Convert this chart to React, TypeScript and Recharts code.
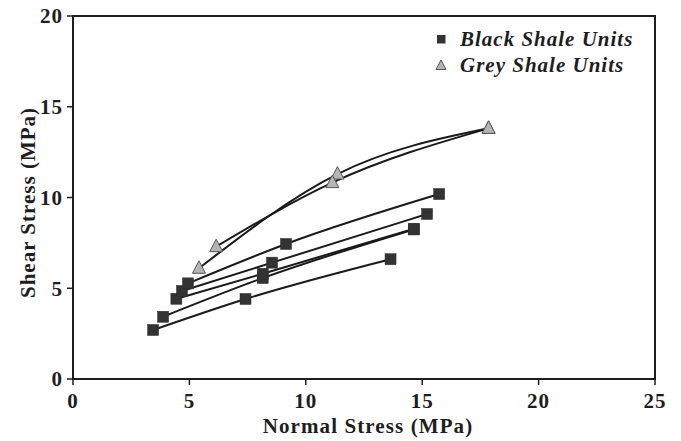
import { ComposedChart, Line, XAxis, YAxis, ReferenceArea, Legend } from "recharts";

// black shale units: one series per test, normal stress (x) vs shear stress (y)
const blackA = [
  { x: 3.44, y: 2.7 },
  { x: 7.41, y: 4.41 },
  { x: 13.64, y: 6.6 },
];
const blackB = [
  { x: 3.87, y: 3.43 },
  { x: 8.15, y: 5.56 },
  { x: 14.64, y: 8.24 },
];
const blackC = [
  { x: 4.44, y: 4.42 },
  { x: 8.15, y: 5.8 },
  { x: 14.64, y: 8.28 },
];
const blackD = [
  { x: 4.68, y: 4.85 },
  { x: 8.55, y: 6.41 },
  { x: 15.21, y: 9.09 },
];
const blackE = [
  { x: 4.94, y: 5.27 },
  { x: 9.15, y: 7.44 },
  { x: 15.73, y: 10.19 },
];

// grey shale units
const greyA = [
  { x: 5.41, y: 6.1 },
  { x: 11.36, y: 11.29 },
  { x: 17.85, y: 13.81 },
];
const greyB = [
  { x: 6.15, y: 7.29 },
  { x: 11.14, y: 10.82 },
  { x: 17.85, y: 13.81 },
];

const blackSeries = [blackA, blackB, blackC, blackD, blackE];
const greySeries = [greyA, greyB];

const xTicks = [0, 5, 10, 15, 20, 25];
const yTicks = [0, 5, 10, 15, 20];

const FONT = '"Liberation Serif", "Times New Roman", serif';
const INK = "#1e1e1e";
const SQUARE_FILL = "#333";
const TRI_FILL = "#b5b5b5";

function SquareDot(props: any) {
  const { cx, cy, index } = props;
  if (cx == null || cy == null) return null;
  return (
    <rect
      key={`sq-${index}`}
      x={cx - 5.5}
      y={cy - 5.5}
      width={11}
      height={11}
      fill={SQUARE_FILL}
      stroke="#2a2a2a"
      strokeWidth={0.5}
    />
  );
}

function TriangleDot(props: any) {
  const { cx, cy, index } = props;
  if (cx == null || cy == null) return null;
  return (
    <polygon
      key={`tri-${index}`}
      points={`${cx},${cy - 7.5} ${cx - 6.5},${cy + 5} ${cx + 6.5},${cy + 5}`}
      fill={TRI_FILL}
      stroke="#555"
      strokeWidth={1}
    />
  );
}

function YTitle({ viewBox }: any) {
  const cx = viewBox.x + 28;
  const cy = viewBox.y + viewBox.height / 2 + 5;
  return (
    <text
      x={cx}
      y={cy}
      transform={`rotate(-90 ${cx} ${cy})`}
      textAnchor="middle"
      dominantBaseline="central"
      fontFamily={FONT}
      fontWeight="bold"
      fontSize={21}
      letterSpacing={1}
      fill={INK}
    >
      Shear Stress (MPa)
    </text>
  );
}

function XTitle({ viewBox }: any) {
  const cx = viewBox.x + viewBox.width / 2 + 4;
  const by = viewBox.y + 54;
  return (
    <text
      x={cx}
      y={by}
      textAnchor="middle"
      fontFamily={FONT}
      fontWeight="bold"
      fontSize={21}
      letterSpacing={1.1}
      fill={INK}
    >
      Normal Stress (MPa)
    </text>
  );
}

function LegendBox() {
  const row = {
    display: "flex",
    alignItems: "center",
    height: 26,
    fontFamily: FONT,
    fontWeight: "bold" as const,
    fontStyle: "italic" as const,
    fontSize: 21,
    letterSpacing: "1px",
    color: INK,
  };
  return (
    <div>
      <div style={row}>
        <svg width={14} height={14} style={{ marginRight: 12 }}>
          <rect x={3} y={3} width={8.5} height={8.5} fill={SQUARE_FILL} />
        </svg>
        Black Shale Units
      </div>
      <div style={row}>
        <svg width={14} height={14} style={{ marginRight: 12 }}>
          <polygon points="7,2 2,11.5 12,11.5" fill={TRI_FILL} stroke="#555" strokeWidth={1} />
        </svg>
        Grey Shale Units
      </div>
    </div>
  );
}

export default function App() {
  const tick = {
    fontSize: 21,
    fontWeight: "bold",
    fill: INK,
    fontFamily: FONT,
    letterSpacing: 1,
  };
  return (
    <div style={{ position: "absolute", left: 0, top: 0, background: "#fff" }}>
      <ComposedChart
        width={681}
        height={441}
        margin={{ top: 16, right: 26, bottom: 0, left: 0 }}
      >
        <XAxis
          type="number"
          dataKey="x"
          domain={[0, 25]}
          ticks={xTicks}
          allowDataOverflow
          height={62}
          tick={tick}
          tickSize={6}
          tickMargin={8}
          stroke={INK}
          strokeWidth={2}
          tickLine={{ stroke: INK, strokeWidth: 1.5 }}
          label={<XTitle />}
        />
        <YAxis
          type="number"
          dataKey="y"
          domain={[0, 20]}
          ticks={yTicks}
          allowDataOverflow
          width={73}
          tick={tick}
          tickSize={6}
          tickMargin={4}
          stroke={INK}
          strokeWidth={2}
          tickLine={{ stroke: INK, strokeWidth: 1.5 }}
          label={<YTitle />}
        />
        <ReferenceArea
          x1={0}
          x2={25}
          y1={0}
          y2={20}
          fill="none"
          stroke={INK}
          strokeWidth={2}
          ifOverflow="visible"
        />
        <Legend
          layout="horizontal"
          verticalAlign="middle"
          align="center"
          wrapperStyle={{ top: 26, left: 434, width: 240 }}
          content={() => <LegendBox />}
        />
        {greySeries.map((s, i) => (
          <Line
            key={`g${i}`}
            data={s}
            dataKey="y"
            type="monotone"
            stroke="#1a1a1a"
            strokeWidth={2}
            dot={TriangleDot}
            activeDot={false}
            isAnimationActive={false}
            legendType="none"
          />
        ))}
        {blackSeries.map((s, i) => (
          <Line
            key={`b${i}`}
            data={s}
            dataKey="y"
            type="monotone"
            stroke="#1a1a1a"
            strokeWidth={2}
            dot={SquareDot}
            activeDot={false}
            isAnimationActive={false}
            legendType="none"
          />
        ))}
      </ComposedChart>
    </div>
  );
}
